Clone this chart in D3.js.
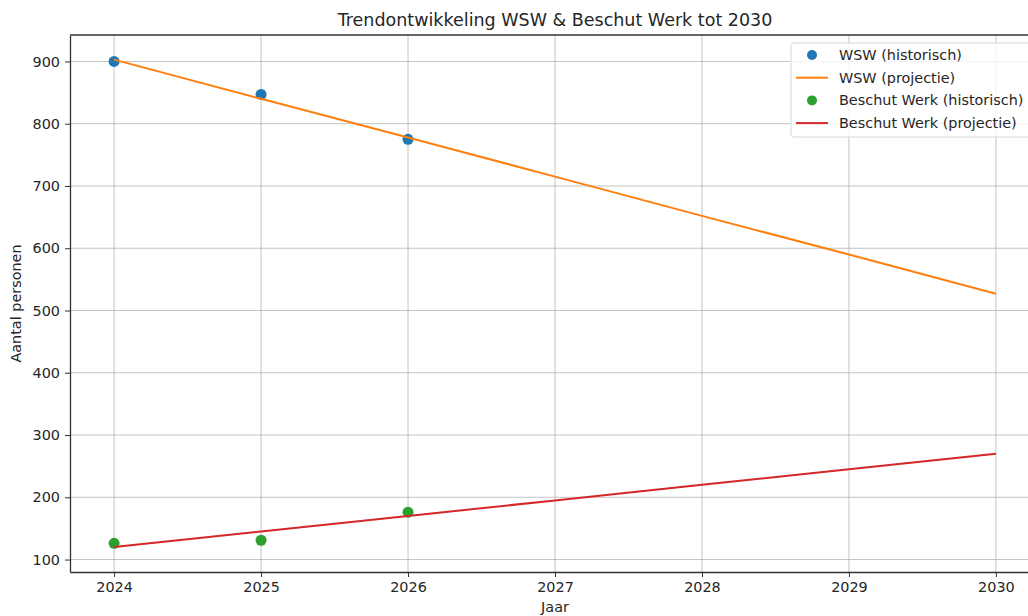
<!DOCTYPE html>
<meta charset="utf-8">
<title>Trendontwikkeling WSW & Beschut Werk tot 2030</title>
<style>
  body { margin: 0; background: #fff; }
  text { font-family: "DejaVu Sans", sans-serif; fill: #262626; }
</style>
<body>
<script src="https://d3js.org/d3.v7.min.js"></script>
<script>

// historical points
const histYears = [2024, 2025, 2026];
const wswHist = [900, 847, 775];
const beschutHist = [126, 131, 176];

// projection lines
const projYears = [2024, 2025, 2026, 2027, 2028, 2029, 2030];
const wswProj = [903, 840, 778, 715, 652, 590, 527];
const beschutProj = [120, 145, 170, 195, 220, 245, 270];

const yTicks = [100, 200, 300, 400, 500, 600, 700, 800, 900];
const xTicks = [2024, 2025, 2026, 2027, 2028, 2029, 2030];

const legendItems = [
  { label: "WSW (historisch)", color: "#1f77b4", type: "dot" },
  { label: "WSW (projectie)", color: "#ff7f0e", type: "line" },
  { label: "Beschut Werk (historisch)", color: "#2ca02c", type: "dot" },
  { label: "Beschut Werk (projectie)", color: "#d62728", type: "line" }
];

var width = 1028,
  height = 616,
  margin = { top: 35, right: -12, bottom: 44, left: 70 };

var svg = d3.select("body").append("svg")
    .attr("width", width)
    .attr("height", height);

var x = d3.scaleLinear().domain([2023.7, 2030.3]).range([margin.left, width - margin.right]);
var y = d3.scaleLinear().domain([80, 942.5]).range([height - margin.bottom, margin.top]);

// grid
svg.append("g").selectAll("line")
    .data(xTicks)
  .enter().append("line")
    .attr("x1", d => x(d)).attr("x2", d => x(d))
    .attr("y1", margin.top).attr("y2", height - margin.bottom)
    .style("stroke", "#b0b0b0").style("stroke-width", 1).style("opacity", 0.75);

svg.append("g").selectAll("line")
    .data(yTicks)
  .enter().append("line")
    .attr("x1", margin.left).attr("x2", width - margin.right)
    .attr("y1", d => y(d)).attr("y2", d => y(d))
    .style("stroke", "#b0b0b0").style("stroke-width", 1).style("opacity", 0.75);

// axes
var xAxis = svg.append("g")
    .attr("transform", "translate(0," + (height - margin.bottom) + ")")
    .call(d3.axisBottom(x).tickValues(xTicks).tickFormat(d3.format("d")).tickSize(5).tickSizeOuter(0).tickPadding(5));

var yAxis = svg.append("g")
    .attr("transform", "translate(" + margin.left + ",0)")
    .call(d3.axisLeft(y).tickValues(yTicks).tickSize(5).tickSizeOuter(0).tickPadding(5));

[xAxis, yAxis].forEach(a => {
  a.selectAll("text").style("font-size", "14.4px").style("font-family", "DejaVu Sans").style("fill", "#262626");
  a.selectAll("line").style("stroke", "#333");
  a.select(".domain").style("stroke", "#333").style("stroke-width", 1.3);
});

// top spine
svg.append("line")
    .attr("x1", margin.left).attr("x2", width - margin.right)
    .attr("y1", margin.top).attr("y2", margin.top)
    .style("stroke", "#333").style("stroke-width", 1.3);

// historical points
var dots = svg.append("g");

dots.selectAll("circle.wsw")
    .data(histYears.map((yr, i) => [yr, wswHist[i]]))
  .enter().append("circle")
    .attr("class", "wsw")
    .attr("cx", d => x(d[0])).attr("cy", d => y(d[1])).attr("r", 5.5)
    .style("fill", "#1f77b4");

dots.selectAll("circle.beschut")
    .data(histYears.map((yr, i) => [yr, beschutHist[i]]))
  .enter().append("circle")
    .attr("class", "beschut")
    .attr("cx", d => x(d[0])).attr("cy", d => y(d[1])).attr("r", 5.5)
    .style("fill", "#2ca02c");

// projection lines
var line = d3.line().x(d => x(d[0])).y(d => y(d[1]));

svg.append("path")
    .attr("d", line(projYears.map((yr, i) => [yr, wswProj[i]])))
    .style("fill", "none").style("stroke", "#ff7f0e").style("stroke-width", 2);

svg.append("path")
    .attr("d", line(projYears.map((yr, i) => [yr, beschutProj[i]])))
    .style("fill", "none").style("stroke", "#d62728").style("stroke-width", 2);

// title and labels
svg.append("text")
    .attr("x", (margin.left + width - margin.right) / 2).attr("y", 26)
    .attr("text-anchor", "middle")
    .style("font-size", "17.5px")
    .text("Trendontwikkeling WSW & Beschut Werk tot 2030");

svg.append("text")
    .attr("x", (margin.left + width - margin.right) / 2).attr("y", 612)
    .attr("text-anchor", "middle")
    .style("font-size", "14.4px")
    .text("Jaar");

svg.append("text")
    .attr("transform", "translate(21," + ((margin.top + height - margin.bottom) / 2) + ") rotate(-90)")
    .attr("text-anchor", "middle")
    .style("font-size", "14.4px")
    .text("Aantal personen");

// legend
var legend = svg.append("g").attr("transform", "translate(791,43)");

legend.append("rect")
    .attr("width", 250).attr("height", 94).attr("rx", 3)
    .style("fill", "#fff").style("fill-opacity", 0.8)
    .style("stroke", "#d8d8d8").style("stroke-width", 1);

var rows = legend.selectAll("g.row")
    .data(legendItems)
  .enter().append("g")
    .attr("class", "row")
    .attr("transform", (d, i) => "translate(0," + (12 + i * 22.7) + ")");

rows.filter(d => d.type == "dot").append("circle")
    .attr("cx", 21).attr("cy", 0).attr("r", 5)
    .style("fill", d => d.color);

rows.filter(d => d.type == "line").append("line")
    .attr("x1", 5).attr("x2", 37).attr("y1", 0).attr("y2", 0)
    .style("stroke", d => d.color).style("stroke-width", 2);

rows.append("text")
    .attr("x", 48).attr("y", 0).attr("dy", "0.35em")
    .style("font-size", "14.4px")
    .text(d => d.label);

</script>
